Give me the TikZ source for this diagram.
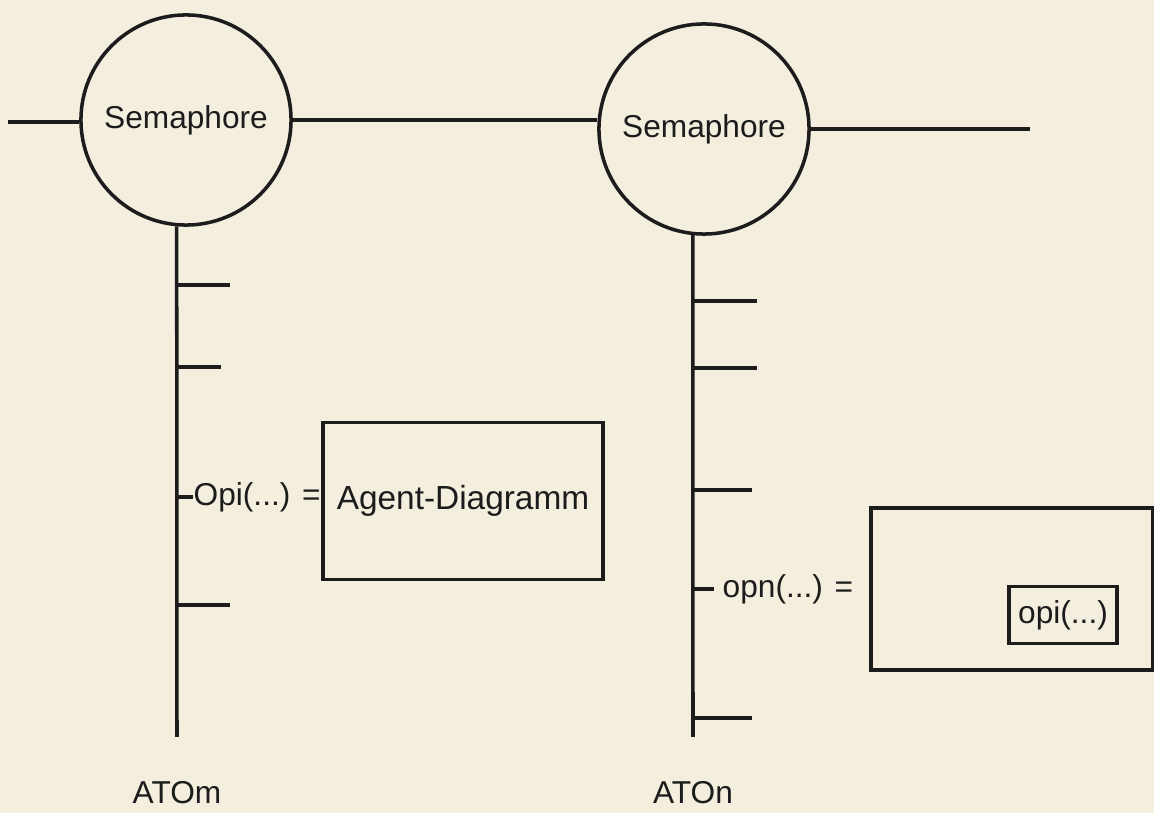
\documentclass[tikz,border=0pt]{standalone}
\usepackage{fontspec}
\setmainfont{Liberation Sans}
\usepackage{tikz}
\usetikzlibrary{positioning,calc}
\definecolor{paper}{RGB}{244,238,223}
\definecolor{ink}{RGB}{28,28,28}

\begin{document}
\begin{tikzpicture}[
    x=0.01cm, y=-0.01cm,
    semnode/.style={circle, draw=ink, line width=1pt, minimum size=2.1cm, inner sep=0pt, text=ink, font=\fontsize{9}{11}\selectfont},
    opbox/.style={draw=ink, line width=1pt, text=ink, font=\fontsize{9.5}{11}\selectfont},
    oplabel/.style={anchor=west, inner xsep=0pt, text=ink, font=\fontsize{9}{11}\selectfont},
    wire/.style={draw=ink, line width=1pt}
]
\fill[paper] (0,0) rectangle (1154,813);
\useasboundingbox (0,0) rectangle (1154,813);

% semaphores on the common line
\node[semnode] (sem1) at (186,120) {Semaphore};
\node[semnode] (sem2) at (704,129) {Semaphore};
\coordinate (in1) at (8,122);
\coordinate (out2) at (1030,129);
\draw[wire] (in1) -- (in1 -| sem1.west);
\draw[wire] (sem1.east) -- (sem1.east -| sem2.west);
\draw[wire] (sem2.east) -- (out2);

% ATOm time line
\coordinate (end1) at (177,737);
\draw[wire] (sem1.265) -- (end1);
\draw[wire] (177,285) -- (230,285);
\draw[wire] (177,367) -- (221,367);
\draw[wire] (177,605) -- (230,605);
\node[oplabel] (opi1) at (193,497) {Opi(...) =};
\draw[wire] (177,497) -- (opi1.west);
\node[opbox, minimum width=2.8cm, minimum height=1.57cm] (agent) at (463,501) {Agent-Diagramm};
\node[text=ink, font=\fontsize{9}{11}\selectfont] (atom) at (177,793) {ATOm};

% ATOn time line
\coordinate (end2) at (693,737);
\draw[wire] (sem2.264) -- (end2);
\draw[wire] (693,301) -- (757,301);
\draw[wire] (693,368) -- (757,368);
\draw[wire] (693,490) -- (752,490);
\draw[wire] (693,718) -- (752,718);
\node[oplabel] (opn) at (722,589) {opn(...) =};
\draw[wire] (693,589) -- (714,589);
\node[opbox, minimum width=2.82cm, minimum height=1.62cm] (outer) at (1012,589) {};
\node[opbox, minimum width=1.08cm, minimum height=0.57cm, inner sep=0pt, font=\fontsize{9}{11}\selectfont] (opi2) at (1063,615) {opi(...)};
\node[text=ink, font=\fontsize{9}{11}\selectfont] (aton) at (693,793) {ATOn};

\end{tikzpicture}
\end{document}
